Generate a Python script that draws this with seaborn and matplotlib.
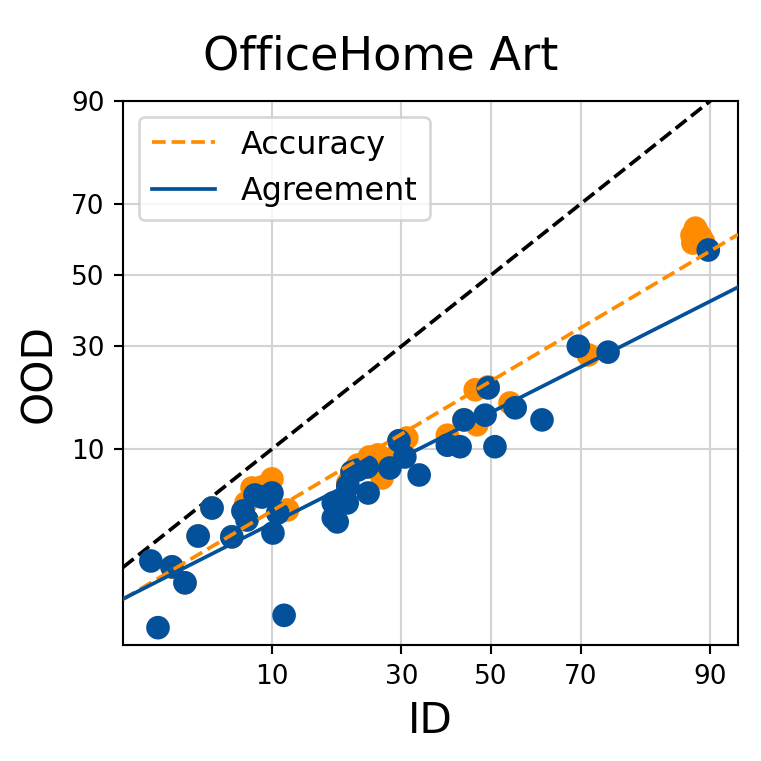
import numpy as np
import pandas as pd
import matplotlib
matplotlib.use("Agg")
import matplotlib.pyplot as plt
import seaborn as sns
from statistics import NormalDist

# --- values (percent) ---
acc_id = [3.10, 3.67, 4.33, 6.47, 7.58, 8.1, 9.01, 10.0, 11.7, 18.1, 20.1, 21.8, 23.8,
          25.4, 26.2, 28.7, 31.1, 39.9, 43.7, 46.7, 46.3, 49.3, 54.4, 71.5, 88.4, 88.1,
          89.3, 88.7, 5.13, 7.34, 8.36, 20.1, 20.8, 23.4, 29.5, 49.3, 88.0, 89.0]
acc_ood = [1.58, 1.17, 2.73, 2.69, 4.66, 5.84, 5.93, 6.66, 4.18, 4.66, 6.28, 8.09, 9.01,
           9.26, 6.75, 9.01, 11.5, 11.9, 14.3, 13.5, 19.9, 20.5, 17.3, 27.8, 63.5, 59.3,
           59.6, 62.1, 4.31, 4.11, 5.26, 6.01, 7.34, 7.87, 11.1, 20.3, 61.5, 61.0]
agr_id = [2.33, 2.57, 3.10, 3.67, 4.33, 5.13, 6.47, 7.34, 7.67, 8.36, 9.01, 10.0, 10.1,
          10.6, 11.3, 17.8, 18.4, 17.8, 20.0, 20.1, 20.8, 23.6, 23.4, 21.8, 27.7, 29.5,
          30.7, 33.7, 39.9, 42.8, 43.7, 48.6, 49.3, 50.9, 55.6, 61.7, 69.5, 75.3, 89.8]
agr_ood = [1.76, 0.47, 1.58, 1.17, 2.73, 4.31, 2.69, 4.11, 3.56, 5.26, 5.10, 5.42, 2.87,
           3.98, 0.61, 3.68, 3.45, 4.66, 4.66, 6.01, 7.34, 5.42, 7.87, 7.55, 7.76, 11.1,
           9.01, 7.04, 10.5, 10.3, 14.3, 15.1, 20.3, 10.3, 16.4, 14.3, 30.0, 28.5, 57.3]
tick_vals = [10, 30, 50, 70, 90]

ORANGE = "#ff8c00"
BLUE = "#03519a"

nd = NormalDist()


def probit(p):
    return np.array([nd.inv_cdf(v / 100.0) for v in np.atleast_1d(p)])


df_acc = pd.DataFrame({"x": probit(acc_id), "y": probit(acc_ood)})
df_agr = pd.DataFrame({"x": probit(agr_id), "y": probit(agr_ood)})

fig = plt.figure(figsize=(4, 4), dpi=190.25)
ax = fig.add_axes([0.1616, 0.1524, 0.8084, 0.7149])

xlim = (-2.153, 1.445)
ylim = (-2.725, 1.2816)

ax.grid(True, color="#d3d3d3", linewidth=0.8)
ax.set_axisbelow(True)

xs = np.linspace(xlim[0], xlim[1], 50)
ax.plot(xs, xs, color="black", linestyle="--", linewidth=1.4)

sns.scatterplot(data=df_acc, x="x", y="y", color=ORANGE, s=80, edgecolor="none",
                ax=ax, zorder=3)
sns.scatterplot(data=df_agr, x="x", y="y", color=BLUE, s=80, edgecolor="none",
                ax=ax, zorder=4)

# linear fits in probit space
m_acc, b_acc = np.polyfit(df_acc["x"], df_acc["y"], 1)
m_agr, b_agr = np.polyfit(df_agr["x"], df_agr["y"], 1)
ax.plot(xs, m_acc * xs + b_acc, color=ORANGE, linestyle="--", linewidth=1.4,
        label="Accuracy", zorder=5)
ax.plot(xs, m_agr * xs + b_agr, color=BLUE, linestyle="-", linewidth=1.4,
        label="Agreement", zorder=5)

ax.set_xlim(*xlim)
ax.set_ylim(*ylim)
ax.set_xticks(probit(tick_vals))
ax.set_xticklabels([str(t) for t in tick_vals], fontsize=10)
ax.set_yticks(probit(tick_vals))
ax.set_yticklabels([str(t) for t in tick_vals], fontsize=10)

ax.set_xlabel("ID", fontsize=16)
ax.set_ylabel("OOD", fontsize=16)
fig.text(0.5, 0.925, "OfficeHome Art", ha="center", va="center", fontsize=17.5)
ax.legend(loc="upper left", fontsize=12, framealpha=0.8)

fig.savefig("out.png", dpi=190.25)
